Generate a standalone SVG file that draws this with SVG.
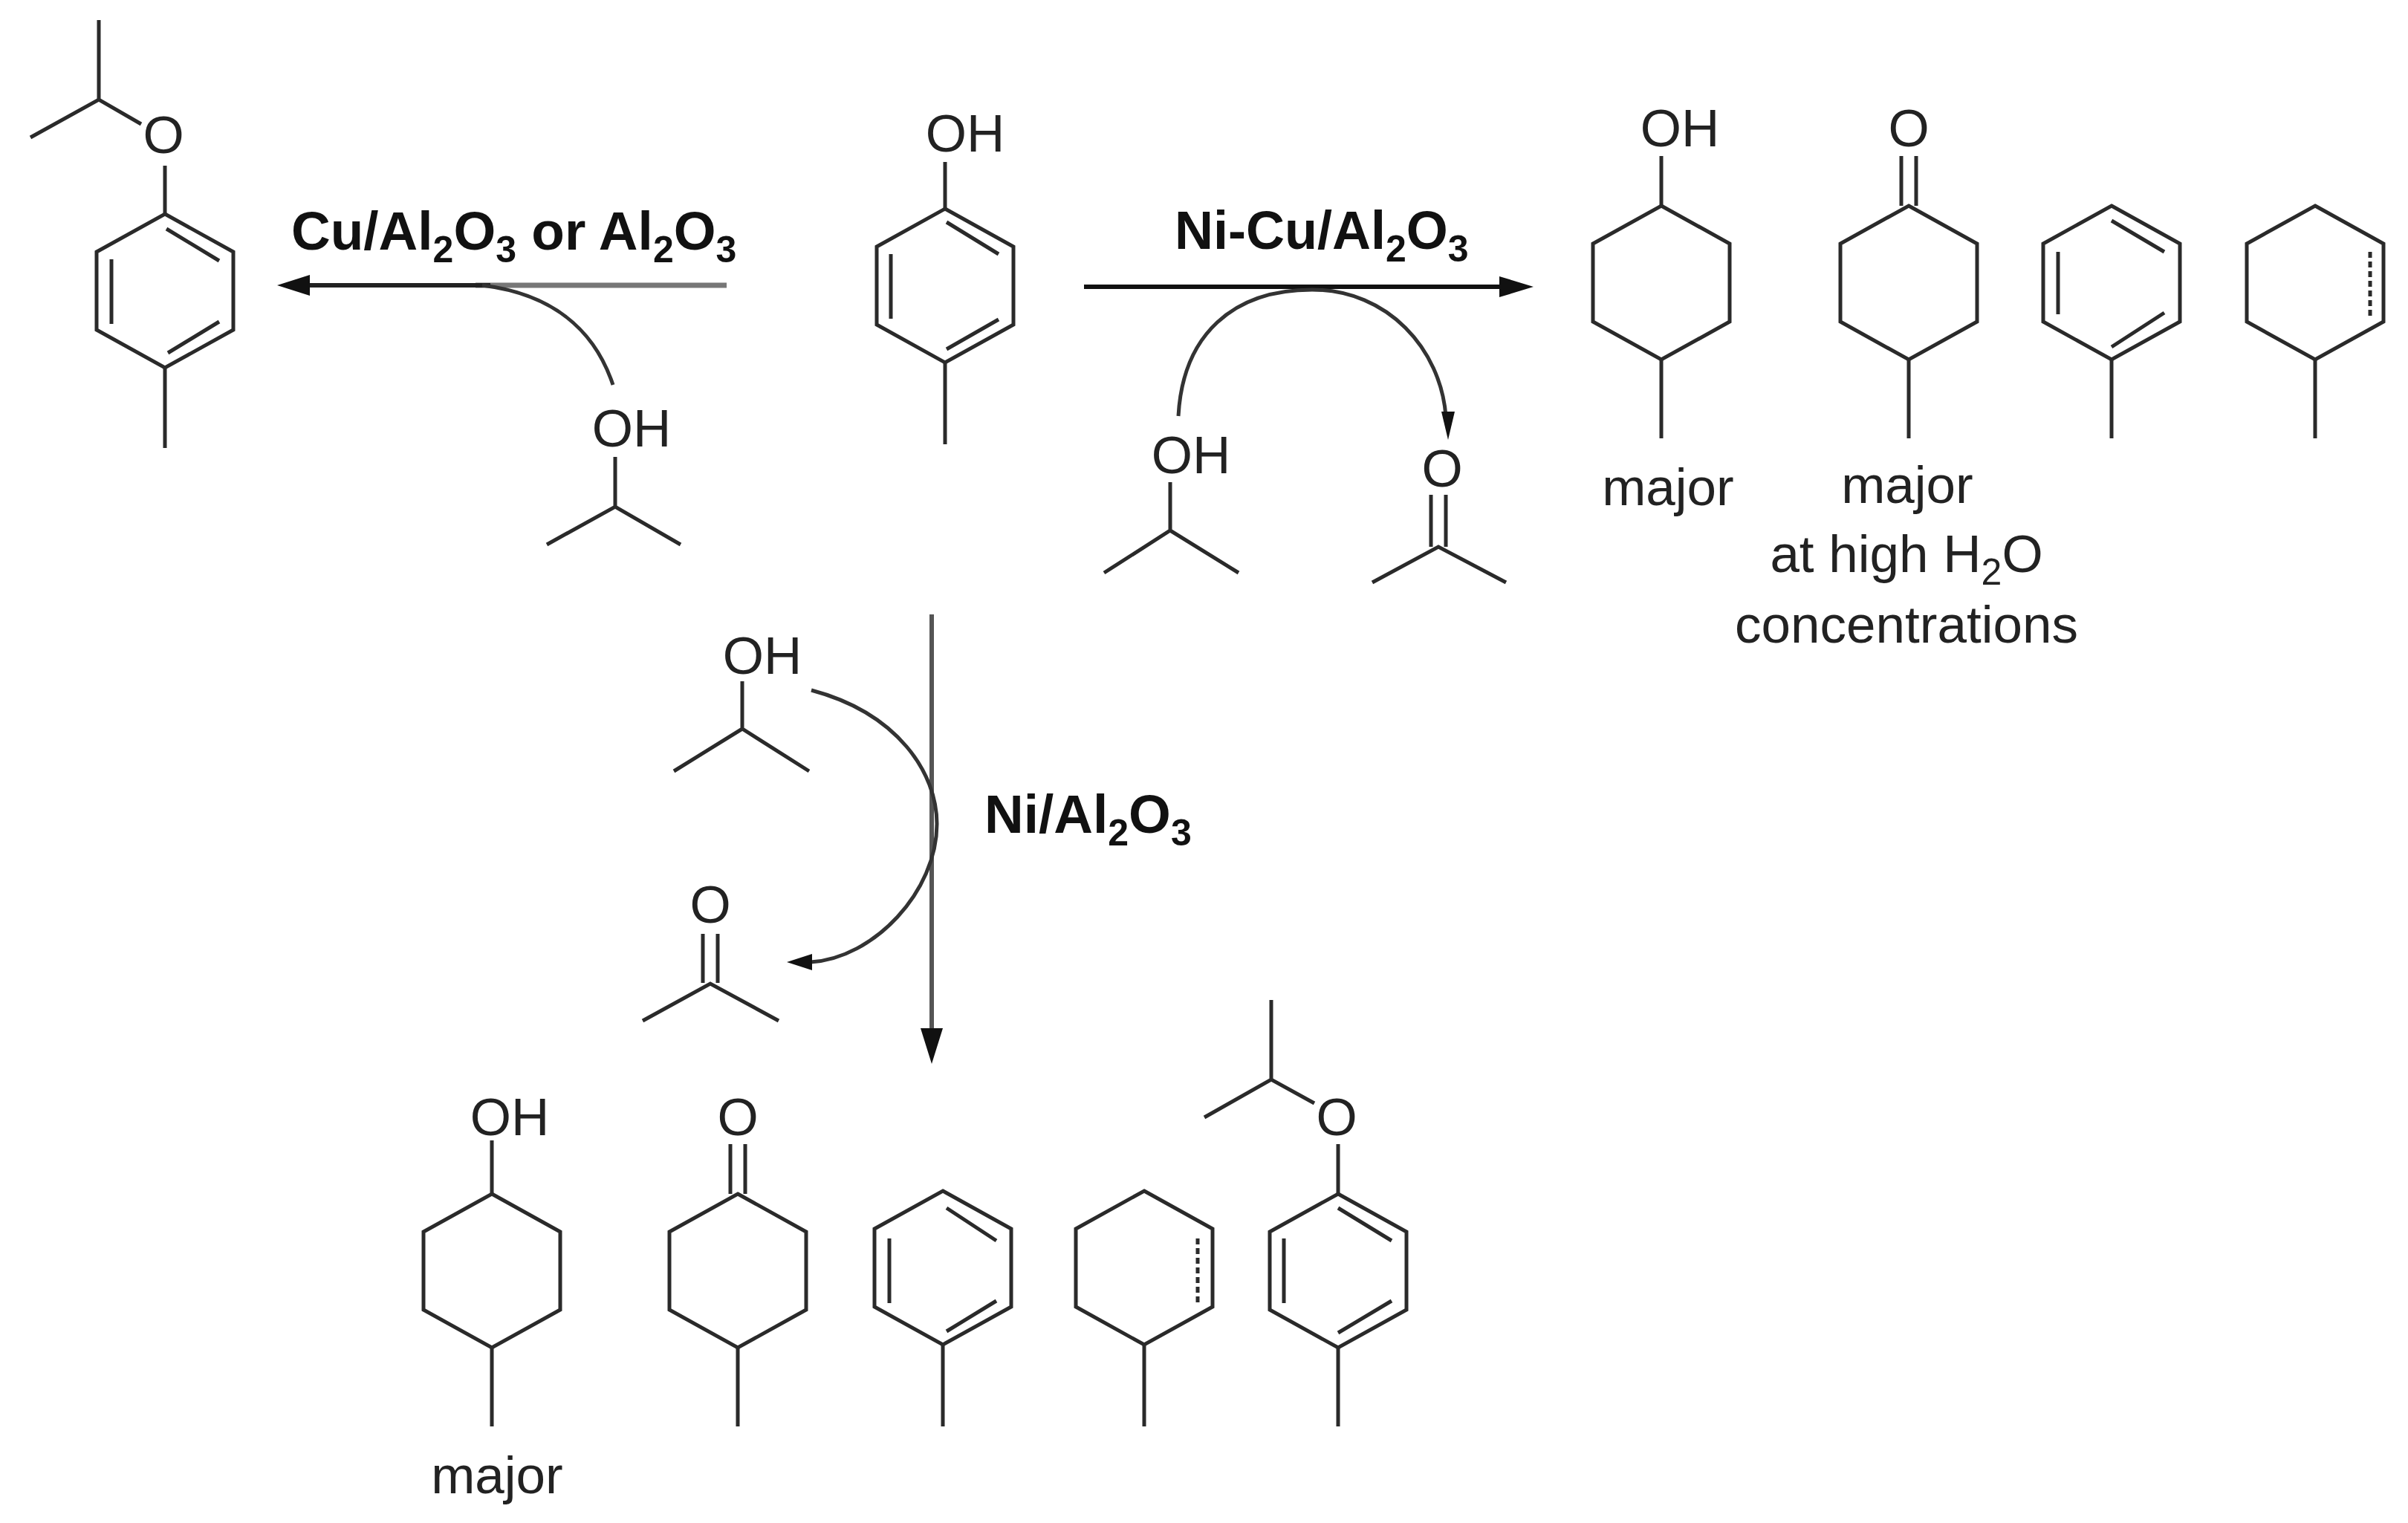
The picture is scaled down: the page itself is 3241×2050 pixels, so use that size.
<svg xmlns="http://www.w3.org/2000/svg" width="3241" height="2050" viewBox="0 0 3241 2050">
<style>
.b{fill:none;stroke:#2a2a2a;stroke-width:5;stroke-linecap:butt;stroke-linejoin:miter}
.d{stroke-dasharray:8 5}
.t{font-family:"Liberation Sans",Arial,sans-serif;font-size:71px;fill:#222;text-anchor:middle}
.r{font-weight:bold;fill:#111;text-anchor:start;font-size:73px}
.s{font-size:50px}
.a{fill:none;stroke:#333;stroke-width:5}
</style>
<defs>
<path id="ring" class="b" d="M0,0L92,51V156L0,207L-92,156V51Z"/>
</defs>
<rect width="3241" height="2050" fill="#fff"/>
<g id="connectors">
<path class="a" style="stroke:#777;stroke-width:7" d="M978,384H640"/>
<path class="a" style="stroke:#222;stroke-width:6" d="M660,384H410"/>
<path fill="#111" d="M373,384L417,370V398Z"/>
<path class="a" d="M825,518C799,440 739,395 649,384"/>
<path class="a" style="stroke:#111;stroke-width:6" d="M1459,386H2020"/>
<path fill="#111" d="M2064,386L2018,372V400Z"/>
<path class="a" d="M1586,560C1592,450 1660,390 1766,390C1868,390 1939,470 1946,560"/>
<path fill="#111" d="M1949,592L1940,554H1958Z"/>
<path class="a" style="stroke:#555;stroke-width:6" d="M1254,827V1390"/>
<path fill="#111" d="M1254,1432L1239,1384H1269Z"/>
<path class="a" d="M1092,929C1208,960 1261,1040 1261,1109C1261,1200 1176,1290 1091,1295"/>
<path fill="#111" d="M1059,1295L1093,1284V1306Z"/>
</g>
<g id="text-labels">
<text class="t r" x="392" y="336">Cu/Al<tspan class="s" dy="17">2</tspan><tspan dy="-17">O</tspan><tspan class="s" dy="17">3</tspan><tspan dy="-17"> or Al</tspan><tspan class="s" dy="17">2</tspan><tspan dy="-17">O</tspan><tspan class="s" dy="17">3</tspan></text>
<text class="t r" style="font-size:72px" x="1581" y="335">Ni-Cu/Al<tspan class="s" dy="17">2</tspan><tspan dy="-17">O</tspan><tspan class="s" dy="17">3</tspan></text>
<text class="t r" x="1325" y="1121">Ni/Al<tspan class="s" dy="17">2</tspan><tspan dy="-17">O</tspan><tspan class="s" dy="17">3</tspan></text>
<text class="t" x="2245" y="680">major</text>
<text class="t" x="2567" y="677">major</text>
<text class="t" x="2566" y="770">at high H<tspan class="s" dy="17">2</tspan><tspan dy="-17">O</tspan></text>
<text class="t" x="2566" y="865">concentrations</text>
<text class="t" x="669" y="2010">major</text>
</g>
<g id="ether-top-left">
<text class="t" x="220" y="206">O</text>
<path class="b" d="M133,27V134M41,185L133,134L190,167M222,223V290M222,495V603M224,308L295,351M150,349V436M226,475L295,433"/>
<use href="#ring" x="222" y="288"/>
</g>
<g id="ipa-left" transform="translate(-4,-3)">
<text class="t" x="854" y="604">OH</text>
<path class="b" d="M832,618V685M740,736L832,685L920,736"/>
</g>
<g id="cresol-center" transform="translate(-6,0)">
<text class="t" x="1305" y="204">OH</text>
<path class="b" d="M1278,218V281M1278,488V598M1280,299L1350,342M1205,342V429M1280,470L1350,430"/>
<use href="#ring" x="1278" y="281"/>
</g>
<g id="ipa-right" transform="translate(-2,-4)">
<text class="t" x="1605" y="641">OH</text>
<path class="b" d="M1577,653V718M1488,775L1577,718L1669,775"/>
</g>
<g id="acetone-right" transform="translate(-4,-3)">
<text class="t" x="1945" y="658">O</text>
<path class="b" d="M1930,669V739M1950,669V739M1851,787L1940,739L2031,787"/>
</g>
<g id="cyclohexanol-right" transform="translate(-11,0)">
<text class="t" x="2272" y="197">OH</text>
<path class="b" d="M2247,210V277M2247,484V590"/>
<use href="#ring" x="2247" y="277"/>
</g>
<g id="cyclohexanone-right" transform="translate(-13,0)">
<text class="t" x="2582" y="197">O</text>
<path class="b" d="M2572,210V277M2592,210V277M2582,484V590"/>
<use href="#ring" x="2582" y="277"/>
</g>
<g id="arene-right" transform="translate(-15,0)">
<path class="b" d="M2857,484V590M2857,297L2928,339M2785,339V423M2857,467L2928,421"/>
<use href="#ring" x="2857" y="277"/>
</g>
<g id="cyclohexene-right" transform="translate(-14,0)">
<path class="b" d="M3130,484V590"/>
<path class="b d" d="M3204,339V426"/>
<use href="#ring" x="3130" y="277"/>
</g>
<g id="ipa-bottom" transform="translate(-1,-2)">
<text class="t" x="1027" y="909">OH</text>
<path class="b" d="M1000,919V983M908,1040L1000,983L1090,1040"/>
</g>
<g id="acetone-bottom" transform="translate(-1,-2)">
<text class="t" x="957" y="1244">O</text>
<path class="b" d="M947,1259V1325M967,1259V1325M866,1376L957,1326L1049,1376"/>
</g>
<g id="cyclohexanol-bottom">
<text class="t" x="686" y="1528">OH</text>
<path class="b" d="M662,1535V1607M662,1814V1920"/>
<use href="#ring" x="662" y="1607"/>
</g>
<g id="cyclohexanone-bottom" transform="translate(-2,0)">
<text class="t" x="995" y="1528">O</text>
<path class="b" d="M985,1540V1607M1005,1540V1607M995,1814V1920"/>
<use href="#ring" x="995" y="1607"/>
</g>
<g id="arene-bottom">
<path class="b" d="M1269,1810V1920M1274,1626L1341,1670M1197,1667V1754M1274,1792L1341,1751"/>
<use href="#ring" x="1269" y="1603"/>
</g>
<g id="cyclohexene-bottom" transform="translate(-3,0)">
<path class="b" d="M1543,1810V1920"/>
<path class="b d" d="M1615,1667V1754"/>
<use href="#ring" x="1543" y="1603"/>
</g>
<g id="ether-bottom" transform="translate(-7,0)">
<text class="t" x="1806" y="1528">O</text>
<path class="b" d="M1718,1346V1453M1628,1504L1718,1453L1776,1485M1808,1540V1607M1808,1814V1920M1808,1626L1880,1670M1735,1667V1754M1808,1794L1880,1751"/>
<use href="#ring" x="1808" y="1607"/>
</g>
</svg>
